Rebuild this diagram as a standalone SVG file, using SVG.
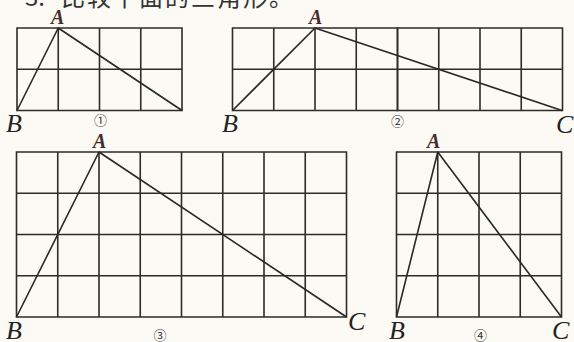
<svg xmlns="http://www.w3.org/2000/svg" width="574" height="342" viewBox="0 0 574 342">
<style>
.grid{fill:none;stroke:#2e2b2a;stroke-width:1.6}
.tri{fill:none;stroke:#2a2726;stroke-width:1.6;stroke-linejoin:round}
.lbA{font-family:"Liberation Serif",serif;font-style:italic;font-weight:bold;font-size:20px;fill:#4a2a28}
.lb{font-family:"Liberation Serif",serif;font-style:italic;font-size:26px;fill:#222}
.num{font-family:"Noto Sans CJK SC",sans-serif;font-size:13px;fill:#333;text-anchor:middle}
.title{font-family:"Noto Sans CJK SC",sans-serif;font-size:24px;fill:#333}
</style>
<defs>
<path id="g4x2" class="grid" d="M0,0H165V82.5H0Z M41.25,0V82.5 M82.5,0V82.5 M123.75,0V82.5 M0,41.25H165"/>
</defs>
<rect width="574" height="342" fill="#fbfaf4"/>
<g id="title">
<text class="title" x="25" y="6">3.</text>
<text class="title" x="61" y="6" letter-spacing="2">比较下面的三角形。</text>
</g>
<g id="fig1">
<use href="#g4x2" x="17" y="28"/>
<text class="lbA" x="51" y="24">A</text>
<text class="lb" x="6" y="132">B</text>
<text class="num" x="100.5" y="125">①</text>
</g>
<g id="fig2">
<use href="#g4x2" x="232.5" y="28"/>
<use href="#g4x2" x="397.5" y="28"/>
<text class="lbA" x="309" y="24">A</text>
<text class="lb" x="222" y="132">B</text>
<text class="lb" x="556" y="133">C</text>
<text class="num" x="397.5" y="125.5">②</text>
</g>
<g id="fig3">
<path class="grid" d="M16.5,152H346.5V317H16.5Z M57.75,152V317 M99,152V317 M140.25,152V317 M181.5,152V317 M222.75,152V317 M264,152V317 M305.25,152V317 M16.5,193.25H346.5 M16.5,234.5H346.5 M16.5,275.75H346.5"/>
<text class="lbA" x="93" y="148">A</text>
<text class="lb" x="6" y="339">B</text>
<text class="lb" x="348" y="330">C</text>
<text class="num" x="160" y="340">③</text>
</g>
<g id="fig4">
<path class="grid" d="M396.5,152H561.5V317H396.5Z M437.75,152V317 M479,152V317 M520.25,152V317 M396.5,193.25H561.5 M396.5,234.5H561.5 M396.5,275.75H561.5"/>
<text class="lbA" x="427" y="148">A</text>
<text class="lb" x="389" y="339">B</text>
<text class="lb" x="552" y="339">C</text>
<text class="num" x="480.5" y="340">④</text>
</g>
<g id="connectors">
<path class="tri" d="M17,110.5L58.25,28L182,110.5"/>
<path class="tri" d="M232.5,110.5L315,28L562,110.5"/>
<path class="tri" d="M16.5,317L99,152L346.5,317"/>
<path class="tri" d="M396.5,317L437.75,152L561.5,317"/>
</g>
</svg>
